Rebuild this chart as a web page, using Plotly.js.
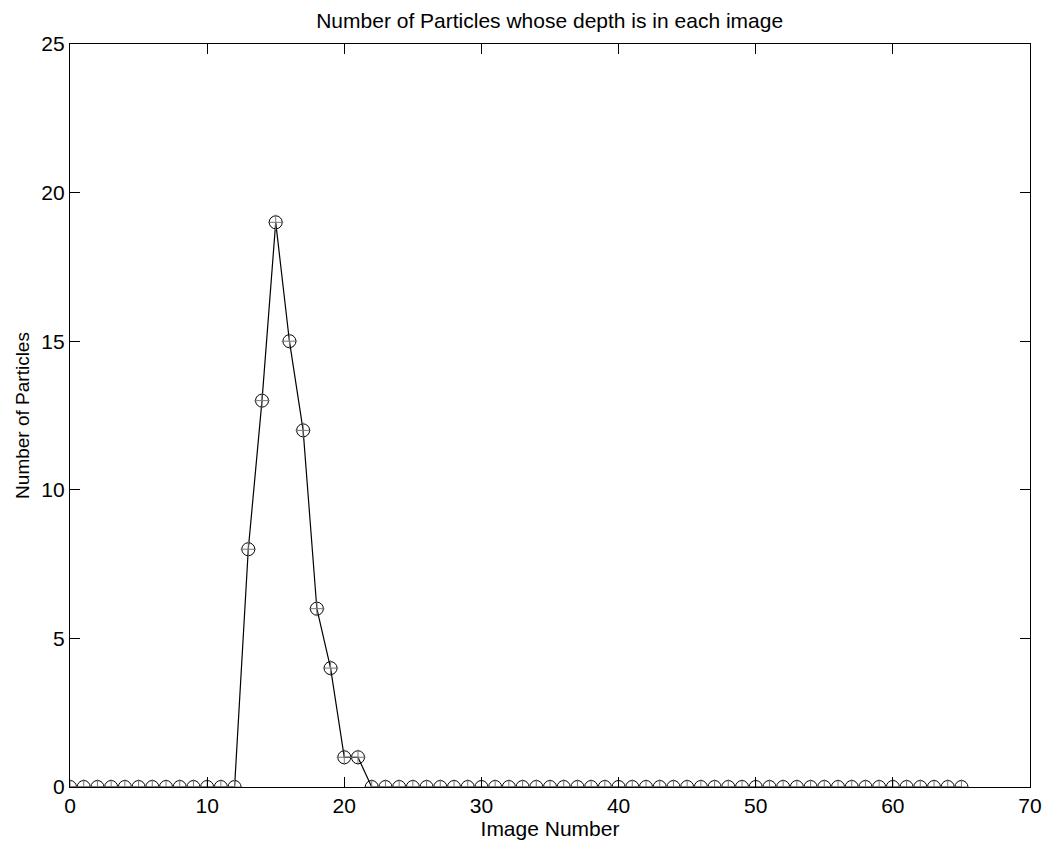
<!DOCTYPE html>
<html>
<head>
<meta charset="utf-8">
<script src="https://cdn.plot.ly/plotly-3.0.1.min.js"></script>
<style>html,body{margin:0;padding:0;background:#fff;}#chart{width:1053px;height:847px;}</style>
</head>
<body>
<div id="chart"></div>
<script>
const imageNumber = [0,1,2,3,4,5,6,7,8,9,10,11,12,13,14,15,16,17,18,19,20,21,22,23,24,25,26,27,28,29,30,31,32,33,34,35,36,37,38,39,40,41,42,43,44,45,46,47,48,49,50,51,52,53,54,55,56,57,58,59,60,61,62,63,64,65];
const particleCount = [0,0,0,0,0,0,0,0,0,0,0,0,0,8,13,19,15,12,6,4,1,1,0,0,0,0,0,0,0,0,0,0,0,0,0,0,0,0,0,0,0,0,0,0,0,0,0,0,0,0,0,0,0,0,0,0,0,0,0,0,0,0,0,0,0,0];
const xTicks = [0,10,20,30,40,50,60,70];
const yTicks = [0,5,10,15,20,25];

const font = {family: 'Liberation Sans, Arial, sans-serif', color: '#000'};

const traces = [
  {
    x: imageNumber, y: particleCount, type: 'scatter', mode: 'lines+markers',
    line: {color: '#000', width: 1.2},
    marker: {symbol: 'circle-open', size: 13, color: '#000', line: {width: 1, color: '#000'}},
    showlegend: false, hoverinfo: 'x+y'
  },
  {
    x: imageNumber, y: particleCount, type: 'scatter', mode: 'markers',
    marker: {symbol: 'cross-thin-open', size: 11, color: '#777', line: {width: 1, color: '#777'}},
    showlegend: false, hoverinfo: 'skip'
  }
];

const axisCommon = {
  showgrid: false, zeroline: false, showline: true, linecolor: '#000', linewidth: 1.2,
  mirror: 'ticks', ticks: 'inside', ticklen: 10, tickwidth: 1.2, tickcolor: '#000',
  tickfont: Object.assign({size: 21}, font)
};

const layout = {
  width: 1053, height: 847,
  margin: {l: 70, r: 23, t: 44, b: 60},
  paper_bgcolor: '#fff', plot_bgcolor: '#fff',
  title: {text: 'Number of Particles whose depth is in each image', font: Object.assign({size: 21}, font), x: 0.522, xanchor: 'center', y: 0.976, yanchor: 'middle'},
  xaxis: Object.assign({}, axisCommon, {
    range: [0, 70], tickvals: xTicks, ticktext: xTicks.map(String),
    title: {text: 'Image Number', font: Object.assign({size: 21}, font), standoff: 4}
  }),
  yaxis: Object.assign({}, axisCommon, {
    range: [0, 25], tickvals: yTicks, ticktext: yTicks.map(String),
    title: {text: 'Number of Particles', font: Object.assign({size: 19}, font), standoff: 6}
  })
};

Plotly.newPlot('chart', traces, layout, {displayModeBar: false, staticPlot: true});
</script>
</body>
</html>
